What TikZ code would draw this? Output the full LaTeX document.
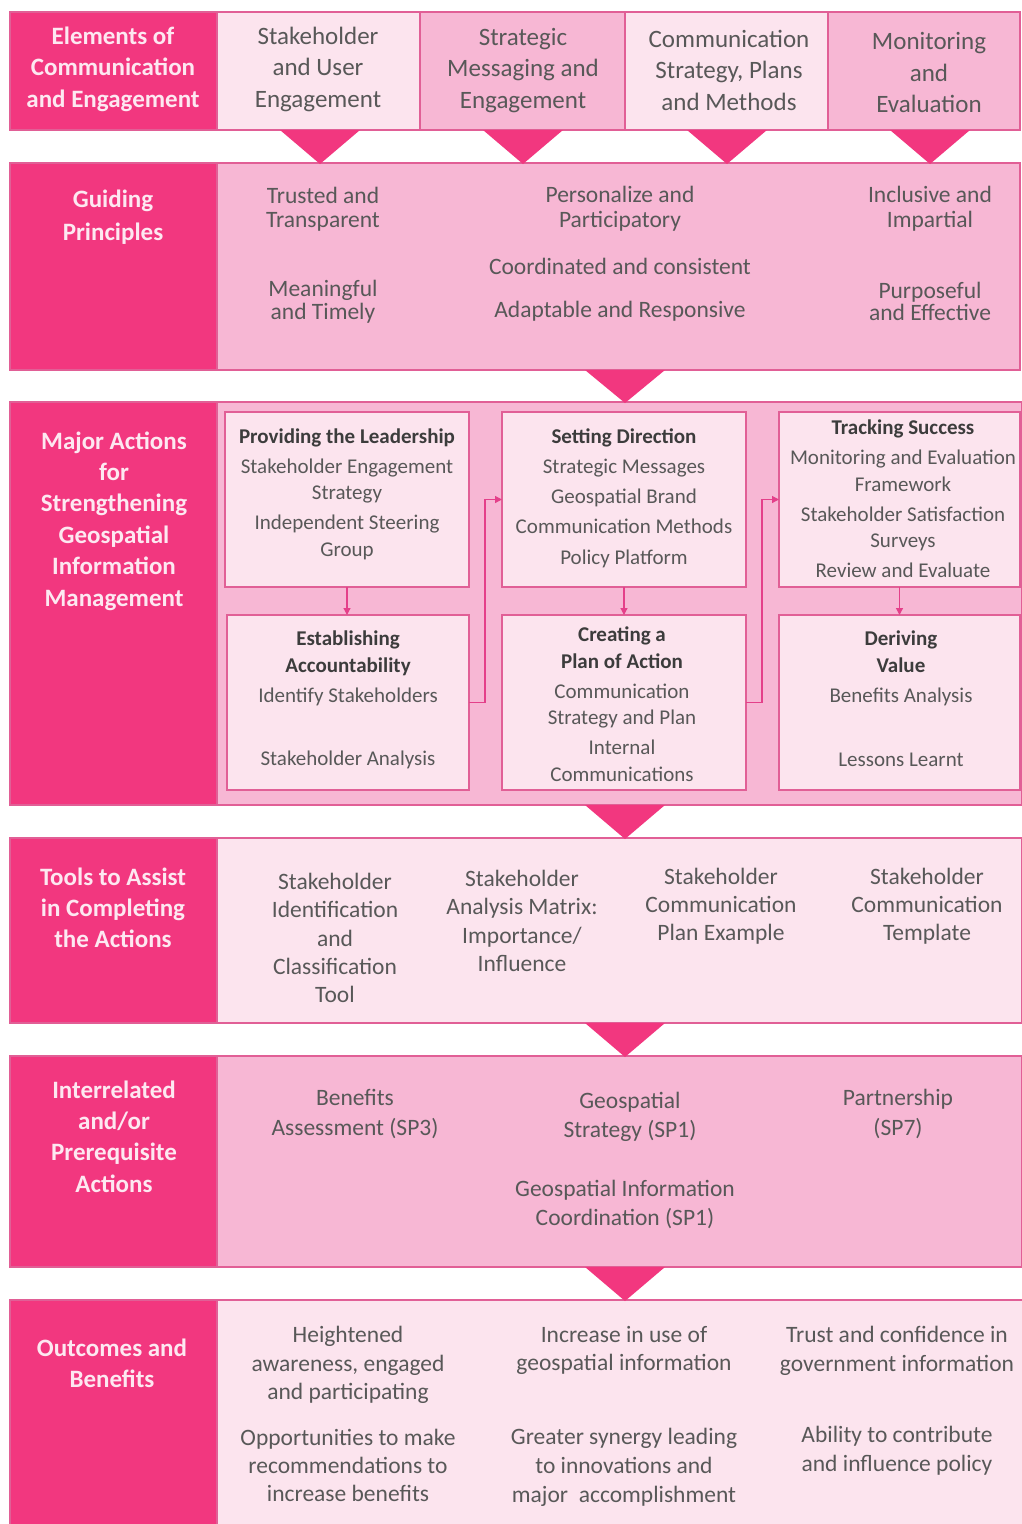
\documentclass[tikz,border=0pt]{standalone}
\usepackage{fontspec}
\setmainfont{Carlito}
\usetikzlibrary{arrows.meta}
\definecolor{dk}{RGB}{242,55,127}
\definecolor{md}{RGB}{247,183,212}
\definecolor{lt}{RGB}{252,228,238}
\definecolor{bd}{RGB}{225,95,150}
\definecolor{ar}{RGB}{228,64,138}
\definecolor{tx}{RGB}{88,88,88}
\definecolor{tb}{RGB}{60,60,60}
\definecolor{ht}{RGB}{253,232,241}
\newcommand\cellbox[6]{\node[cell,fill=#2,minimum width={(#5-#3)*1pt},minimum height={(#6-#4)*1pt}] (#1) at (#3,#4) {};}
\begin{document}
\begin{tikzpicture}[x=1pt,y=-1pt,
  cell/.style={draw=bd,line width=1.4pt,inner sep=0pt,outer sep=0pt,anchor=north west,rectangle},
  ibox/.style={draw=bd,line width=1.4pt,fill=lt,inner sep=0pt,outer sep=0pt,anchor=north west,rectangle},
  tri/.style={fill=dk},
  hdr/.style={text=ht,font=\bfseries\fontsize{25}{31.5}\selectfont,align=center,inner sep=0pt},
  rone/.style={text=tx,font=\fontsize{25}{31.5}\selectfont,align=center,inner sep=0pt},
  rtwo/.style={text=tx,font=\fontsize{23.5}{24.5}\selectfont,align=center,inner sep=0pt},
  body/.style={text=tx,font=\fontsize{23.5}{28.5}\selectfont,align=center,inner sep=0pt},
  bx/.style={text=tx,font=\fontsize{21}{26.5}\selectfont,align=center,inner sep=0pt},
  arr/.style={draw=ar,line width=1.2pt,-{Triangle[length=7pt,width=7pt]}}]
\useasboundingbox (0,0) rectangle (1022,1524);
\fill[white] (0,0) rectangle (1022,1524);

% Row 1
\cellbox{h1}{dk}{10}{12}{217}{130}
\cellbox{c11}{lt}{217}{12}{420}{130}
\cellbox{c12}{md}{420}{12}{625}{130}
\cellbox{c13}{lt}{625}{12}{828}{130}
\cellbox{c14}{md}{828}{12}{1020}{130}
% Row 2
\cellbox{r2}{md}{10}{163}{1020}{370}
\cellbox{h2}{dk}{10}{163}{217}{370}
% Row 3
\cellbox{r3}{md}{10}{402}{1022}{805}
\cellbox{h3}{dk}{10}{402}{217}{805}
% Row 4
\cellbox{r4}{lt}{10}{838}{1022}{1023}
\cellbox{h4}{dk}{10}{838}{217}{1023}
% Row 5
\cellbox{r5}{md}{10}{1056}{1022}{1267}
\cellbox{h5}{dk}{10}{1056}{217}{1267}
% Row 6
\cellbox{r6}{lt}{10}{1300}{1024}{1528}
\cellbox{h6}{dk}{10}{1300}{217}{1528}

% triangles
\fill[tri] (280,130) -- (360,130) -- (320,164) -- cycle;
\fill[tri] (483,130) -- (563,130) -- (523,164) -- cycle;
\fill[tri] (687,130) -- (767,130) -- (727,164) -- cycle;
\fill[tri] (890,130) -- (970,130) -- (930,164) -- cycle;
\fill[tri] (585,370) -- (665,370) -- (625,403) -- cycle;
\fill[tri] (585,805) -- (665,805) -- (625,839) -- cycle;
\fill[tri] (585,1023) -- (665,1023) -- (625,1057) -- cycle;
\fill[tri] (585,1267) -- (665,1267) -- (625,1301) -- cycle;

% inner boxes of row 3
\node[ibox,minimum width=244pt,minimum height=175pt] (A) at (225,412) {};
\node[ibox,minimum width=242pt,minimum height=175pt] (B) at (227,615) {};
\node[ibox,minimum width=244pt,minimum height=175pt] (C) at (502,412) {};
\node[ibox,minimum width=244pt,minimum height=175pt] (D) at (502,615) {};
\node[ibox,minimum width=241pt,minimum height=175pt] (E) at (779,412) {};
\node[ibox,minimum width=241pt,minimum height=175pt] (F) at (779,615) {};

\draw[arr] (A.south) -- (A.south |- B.north);
\draw[arr] (C.south) -- (C.south |- D.north);
\draw[arr] (E.south) -- (E.south |- F.north);
\draw[arr] (B.east) -- ++(16,0) |- (C.west);
\draw[arr] (D.east) -- ++(16,0) |- (E.west);

\begin{scope}[shift={(0,1.5)}]
% Row 1 text
\node[hdr] (t1) at (113,67.5) {Elements of\\Communication\\and Engagement};
\node[rone] (t11) at (318,67.5) {Stakeholder\\and User\\Engagement};
\node[rone] (t12) at (523,69) {Strategic\\Messaging and\\Engagement};
\node[rone] (t13) at (729,68.5) {Communication\\Strategy, Plans\\and Methods};
\node[rone] (t14) at (929,71) {Monitoring\\and\\Evaluation};

% Row 2 text
\node[hdr,font=\bfseries\fontsize{25}{33}\selectfont] (t2) at (113,215.5) {Guiding\\Principles};
\node[rtwo] (p1) at (323,207.5) {Trusted and\\Transparent};
\node[rtwo,font=\fontsize{23.5}{23}\selectfont] (p2) at (323,300.5) {Meaningful\\and Timely};
\node[rtwo] (p3) at (620,207) {Personalize and\\Participatory};
\node[rtwo] (p4) at (620,265) {Coordinated and consistent};
\node[rtwo] (p5) at (620,310) {Adaptable and Responsive};
\node[rtwo] (p6) at (930,207) {Inclusive and\\Impartial};
\node[rtwo,font=\fontsize{23.5}{22.5}\selectfont] (p7) at (930,300) {Purposeful\\and Effective};

% Row 3 text
\node[hdr,font=\bfseries\fontsize{25}{31.4}\selectfont] (t3) at (114,519.5) {Major Actions\\for\\Strengthening\\Geospatial\\Information\\Management};
\node[bx] (a1) at (347,492.5) {\textcolor{tb}{\bfseries Providing the Leadership}\\[3.5pt]Stakeholder Engagement\\Strategy\\[3.5pt]Independent Steering\\Group};
\node[bx] (b1) at (348,667) {\textcolor{tb}{\bfseries Establishing}\\\textcolor{tb}{\bfseries Accountability}\\[3.5pt]Identify Stakeholders};
\node[bx] (b2) at (348,758) {Stakeholder Analysis};
\node[bx,font=\fontsize{21}{30.2}\selectfont] (c1) at (624,496.5) {\textcolor{tb}{\bfseries Setting Direction}\\Strategic Messages\\Geospatial Brand\\Communication Methods\\Policy Platform};
\node[bx] (d1) at (622,702.8) {\textcolor{tb}{\bfseries Creating a}\\\textcolor{tb}{\bfseries Plan of Action}\\[3.5pt]Communication\\Strategy and Plan\\[3.5pt]Internal\\Communications};
\node[bx] (e1) at (903,497.5) {\textcolor{tb}{\bfseries Tracking Success}\\[3.5pt]Monitoring and Evaluation\\Framework\\[3.5pt]Stakeholder Satisfaction\\Surveys\\[3.5pt]Review and Evaluate};
\node[bx] (f1) at (901,667) {\textcolor{tb}{\bfseries Deriving}\\\textcolor{tb}{\bfseries Value}\\[3.5pt]Benefits Analysis};
\node[bx] (f2) at (901,758) {Lessons Learnt};

% Row 4 text
\node[hdr,font=\bfseries\fontsize{25}{31}\selectfont] (t4) at (113,906) {Tools to Assist\\in Completing\\the Actions};
\node[body,font=\fontsize{23.5}{28.3}\selectfont] (o1) at (335,936.5) {Stakeholder\\Identification\\and\\Classification\\Tool};
\node[body,font=\fontsize{23.5}{28.3}\selectfont] (o2) at (522,919.5) {Stakeholder\\Analysis Matrix:\\Importance/\\Influence};
\node[body,font=\fontsize{23.5}{28}\selectfont] (o3) at (721,905) {Stakeholder\\Communication\\Plan Example};
\node[body,font=\fontsize{23.5}{28}\selectfont] (o4) at (927,905) {Stakeholder\\Communication\\Template};

% Row 5 text
\node[hdr,font=\bfseries\fontsize{25}{31.3}\selectfont] (t5) at (114,1135) {Interrelated\\and/or\\Prerequisite\\Actions};
\node[body,font=\fontsize{23.5}{30}\selectfont] (q1) at (355,1112) {Benefits\\Assessment (SP3)};
\node[body,font=\fontsize{23.5}{29}\selectfont] (q2) at (630,1115.5) {Geospatial\\Strategy (SP1)};
\node[body,font=\fontsize{23.5}{30}\selectfont] (q3) at (898,1112) {Partnership\\(SP7)};
\node[body,font=\fontsize{23.5}{29}\selectfont] (q4) at (625,1202.5) {Geospatial Information\\Coordination (SP1)};

% Row 6 text
\node[hdr,font=\bfseries\fontsize{25}{31}\selectfont] (t6) at (112,1361.5) {Outcomes and\\Benefits};
\node[body] (s1) at (348,1363.5) {Heightened\\awareness, engaged\\and participating};
\node[body,font=\fontsize{23.5}{28}\selectfont] (s2) at (348,1464) {Opportunities to make\\recommendations to\\increase benefits};
\node[body,font=\fontsize{23.5}{28}\selectfont] (s3) at (624,1349) {Increase in use of\\geospatial information};
\node[body,font=\fontsize{23.5}{29}\selectfont] (s4) at (624,1466) {Greater synergy leading\\to innovations and\\major~~accomplishment};
\node[body,font=\fontsize{23.5}{29}\selectfont] (s5) at (897,1349.5) {Trust and confidence in\\government information};
\node[body,font=\fontsize{23.5}{29}\selectfont] (s6) at (897,1449.5) {Ability to contribute\\and influence policy};
\end{scope}
\end{tikzpicture}
\end{document}
